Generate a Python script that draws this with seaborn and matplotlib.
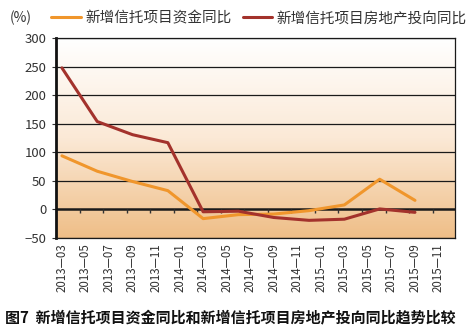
import numpy as np
import pandas as pd
import matplotlib
matplotlib.use("Agg")
import matplotlib.pyplot as plt
import seaborn as sns
from matplotlib.colors import LinearSegmentedColormap
from matplotlib.lines import Line2D

sns.set_theme(style="white")
plt.rcParams['font.family'] = ['Noto Sans CJK SC', 'DejaVu Sans']

# ---- data ----
dates = ["2013-03", "2013-06", "2013-09", "2013-12", "2014-03", "2014-06",
         "2014-09", "2014-12", "2015-03", "2015-06", "2015-09"]
fund_yoy = [94, 67, 49, 33, -16, -9, -8, -2, 8, 53, 16]
realestate_yoy = [248, 154, 131, 117, -4, -3, -14, -19, -17, 1, -5]
tick_labels = ["2013—03", "2013—05", "2013—07", "2013—09", "2013—11",
               "2014—01", "2014—03", "2014—05", "2014—07", "2014—09",
               "2014—11", "2015—01", "2015—03", "2015—05", "2015—07",
               "2015—09", "2015—11"]
yticks = [-50, 0, 50, 100, 150, 200, 250, 300]
name_fund = "新增信托项目资金同比"
name_re = "新增信托项目房地产投向同比"

def month_index(s):
    d = pd.Period(s.replace("—", "-"), freq="M")
    return (d - pd.Period("2013-03", freq="M")).n

df = pd.DataFrame({
    "month": [month_index(d) for d in dates] * 2,
    "value": fund_yoy + realestate_yoy,
    "series": [name_fund] * len(dates) + [name_re] * len(dates),
})
tick_pos = [month_index(t) for t in tick_labels]

c_fund = "#F0962C"
c_re = "#A3322C"

fig = plt.figure(figsize=(4.71, 3.32), dpi=100)
ax = fig.add_axes([0.119, 0.283, 0.847, 0.602])

xlim = (-0.5, 33.4)
ylim = (-50, 300)

# gradient background: white at top, tan at bottom
cmap = LinearSegmentedColormap.from_list("bg", ["#FFFFFF", "#FBE9D6", "#EFBE87"])
grad = np.linspace(1, 0, 256).reshape(-1, 1)
ax.imshow(grad, aspect="auto", cmap=cmap, extent=[xlim[0], xlim[1], ylim[0], ylim[1]],
          zorder=0, origin="lower")

for yv in yticks:
    ax.axhline(yv, color="#1a1a1a", lw=0.9 if yv != 0 else 1.8, zorder=1)

# small tick marks on zero line
for t in tick_pos[:-1]:
    ax.plot([t + 1.5, t + 1.5], [0, -6], color="#333333", lw=1.0, zorder=1.5,
            solid_capstyle="butt")

sns.lineplot(data=df, x="month", y="value", hue="series",
             palette={name_fund: c_fund, name_re: c_re}, lw=2.2, ax=ax,
             legend=False, zorder=3)

ax.set_xlim(*xlim)
ax.set_ylim(*ylim)
ax.set_xticks(tick_pos)
ax.set_xticklabels(tick_labels, rotation=90, fontsize=8.3, color="#333333")
ax.set_yticks(yticks)
ax.set_yticklabels([("−" + str(-v)) if v < 0 else str(v) for v in yticks],
                   fontsize=9.5, color="#333333")
ax.tick_params(axis="x", length=0, pad=4)
ax.tick_params(axis="y", length=3, width=0.8, color="#333333", left=True, pad=4)
ax.set_xlabel("")
ax.set_ylabel("")

for s in ["top", "right", "bottom"]:
    ax.spines[s].set_visible(True)
    ax.spines[s].set_color("#1a1a1a")
    ax.spines[s].set_linewidth(0.9)
ax.spines["left"].set_color("#111111")
ax.spines["left"].set_linewidth(2.0)

fig.text(0.02, 0.945, "(%)", fontsize=10, color="#333333", va="center")

handles = [Line2D([0], [0], color=c_fund, lw=2.2), Line2D([0], [0], color=c_re, lw=2.2)]
fig.legend(handles, [name_fund, name_re], loc="center", bbox_to_anchor=(0.55, 0.945),
           ncol=2, frameon=False, fontsize=10.5, handlelength=2.0, handletextpad=0.3,
           columnspacing=0.8, labelcolor="#333333")

fig.text(0.01, 0.042, "图7  新增信托项目资金同比和新增信托项目房地产投向同比趋势比较",
         fontsize=10.8, fontweight="bold", color="#111111", va="center")

fig.savefig("out.png", dpi=100)
